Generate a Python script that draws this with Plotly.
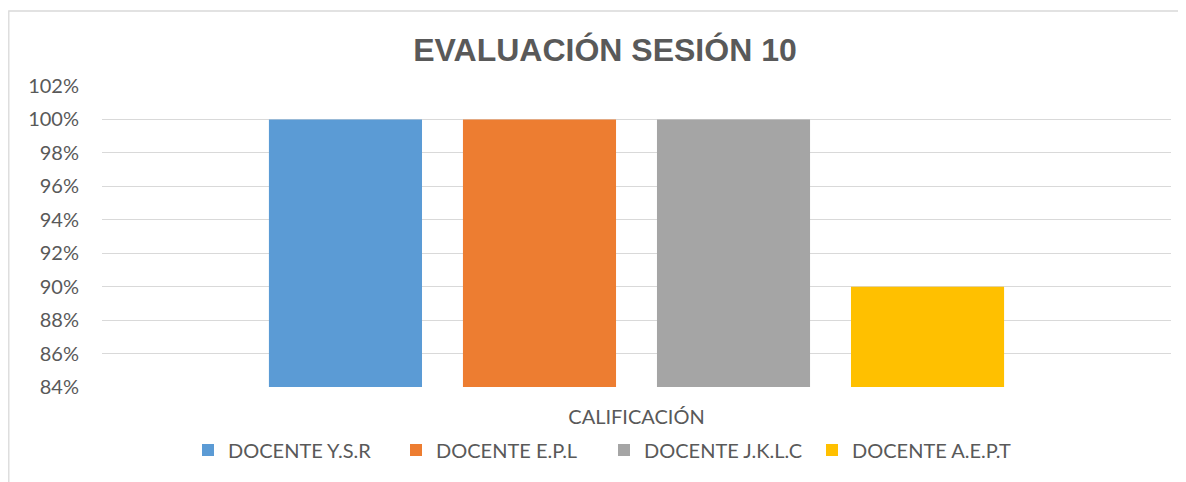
import plotly.graph_objects as go

category = ["CALIFICACIÓN"]
docentes = ["DOCENTE Y.S.R", "DOCENTE E.P.L", "DOCENTE J.K.L.C", "DOCENTE A.E.P.T"]
valores = [1.00, 1.00, 1.00, 0.90]
colores = ["#5B9BD5", "#ED7D31", "#A5A5A5", "#FFC000"]

W, H = 1186, 482
OFF = 8  # page body margin offset
ML, MT = 102 - OFF, 86 - OFF
MR = W - (1171 - OFF)
MB = H - (387 - OFF)
pw, ph = W - ML - MR, H - MT - MB

fig = go.Figure()
for name, v, c in zip(docentes, valores, colores):
    fig.add_trace(go.Bar(x=category, y=[v], name=name, marker=dict(color=c, line=dict(width=0))))

font_fam = "Lato, 'Open Sans', sans-serif"
grey = "#595959"

bx = (0.8 - ML) / pw
by = 1 + (MT - (11 - OFF)) / ph

fig.update_layout(
    width=W, height=H,
    margin=dict(l=ML, r=MR, t=MT, b=MB, autoexpand=False),
    paper_bgcolor="white", plot_bgcolor="white",
    barmode="group", bargap=0.274, bargroupgap=0.211,
    title=dict(text="<b>EVALUACIÓN SESIÓN 10</b>", x=(605 - OFF) / W, xanchor="center", xref="container",
               y=1 - (50 - OFF) / H, yanchor="middle", yref="container", automargin=False,
               font=dict(family="'Liberation Sans', Arial, sans-serif", size=32, color=grey)),
    font=dict(family=font_fam, size=20, color=grey),
    xaxis=dict(showgrid=False, showline=False, zeroline=False, ticks="", automargin=False,
               ticklabelstandoff=16, tickfont=dict(size=20, color=grey)),
    yaxis=dict(range=[0.84, 1.02], dtick=0.02, tickformat=".0%", showgrid=True, automargin=False,
               gridcolor="#D9D9D9", gridwidth=1.3, zeroline=False, showline=False, ticks="",
               ticklabelstandoff=22, tickfont=dict(size=20, color=grey)),
    legend=dict(orientation="h", xref="container", yref="container",
                x=(188 - OFF) / W, xanchor="left", y=1 - (450 - OFF) / H, yanchor="middle",
                font=dict(size=20, color=grey), itemwidth=30, traceorder="normal",
                entrywidth=163, entrywidthmode="pixels"),
    shapes=[dict(type="path", xref="paper", yref="paper",
                 path=f"M {bx} -1 L {bx} {by} L 2 {by}",
                 line=dict(color="#D9D9D9", width=1.3))],
    showlegend=True,
)

fig.write_html("out.html")
